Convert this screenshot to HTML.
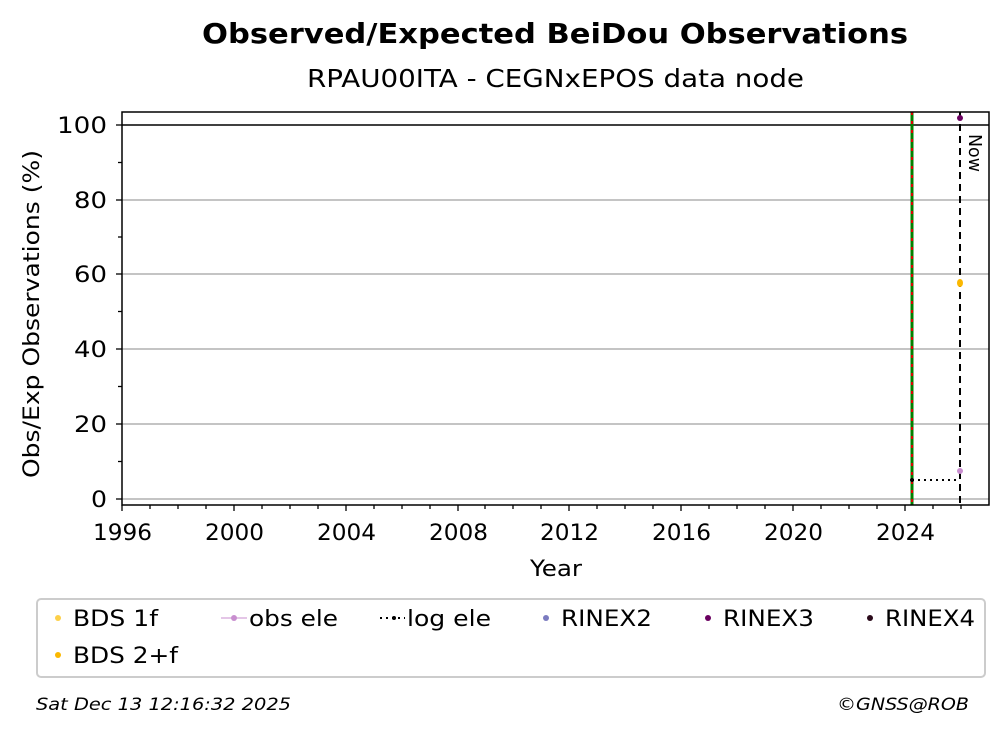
<!DOCTYPE html>
<html><head><style>body{margin:0;background:#fff}svg{display:block}text{font-family:"DejaVu Sans","Liberation Sans",sans-serif}</style></head><body>
<svg width="1008" height="734" viewBox="0 0 1008 734">
<text x="202" y="43" font-size="28" font-weight="bold" textLength="706" lengthAdjust="spacingAndGlyphs">Observed/Expected BeiDou Observations</text>
<text x="307" y="87" font-size="25" textLength="497" lengthAdjust="spacingAndGlyphs">RPAU00ITA - CEGNxEPOS data node</text>
<g stroke="#b0b0b0" stroke-width="1.5">
<line x1="122" x2="989" y1="499" y2="499"/><line x1="122" x2="989" y1="424" y2="424"/><line x1="122" x2="989" y1="349" y2="349"/><line x1="122" x2="989" y1="274" y2="274"/><line x1="122" x2="989" y1="200" y2="200"/>
</g>
<line x1="122" x2="989" y1="125" y2="125" stroke="#000" stroke-width="1.5"/>
<line x1="912" x2="912" y1="112" y2="505" stroke="#008000" stroke-width="3"/>
<line x1="912" x2="912" y1="112" y2="505" stroke="#e00000" stroke-width="2" stroke-dasharray="3,6"/>
<line x1="912" x2="960" y1="480" y2="480" stroke="#000" stroke-width="2" stroke-dasharray="2,4"/>
<circle cx="912" cy="480" r="2" fill="#000"/>
<line x1="960" x2="960" y1="112" y2="505" stroke="#000" stroke-width="2" stroke-dasharray="7,5"/>
<text transform="translate(969,134) rotate(90)" font-size="18" textLength="38" lengthAdjust="spacingAndGlyphs">Now</text>
<circle cx="960" cy="471" r="3" fill="#c88ecf"/>
<ellipse cx="960" cy="283" rx="3" ry="4" fill="#fbb800"/>
<circle cx="960" cy="118" r="3" fill="#6a0060"/>
<rect x="122" y="112" width="867" height="393" fill="none" stroke="#000" stroke-width="1.5"/>
<g stroke="#000" stroke-width="1.3">
<line x1="122" x2="116" y1="499" y2="499"/><line x1="122" x2="116" y1="424" y2="424"/><line x1="122" x2="116" y1="349" y2="349"/><line x1="122" x2="116" y1="274" y2="274"/><line x1="122" x2="116" y1="200" y2="200"/><line x1="122" x2="116" y1="125" y2="125"/>
<line x1="122" x2="118" y1="461.5" y2="461.5"/><line x1="122" x2="118" y1="386.5" y2="386.5"/><line x1="122" x2="118" y1="311.5" y2="311.5"/><line x1="122" x2="118" y1="237" y2="237"/><line x1="122" x2="118" y1="162.5" y2="162.5"/>
</g>
<g font-size="22">
<text x="91" y="507" textLength="16" lengthAdjust="spacingAndGlyphs">0</text>
<text x="74" y="432" textLength="33" lengthAdjust="spacingAndGlyphs">20</text>
<text x="74" y="357" textLength="33" lengthAdjust="spacingAndGlyphs">40</text>
<text x="74" y="282" textLength="33" lengthAdjust="spacingAndGlyphs">60</text>
<text x="74" y="208" textLength="33" lengthAdjust="spacingAndGlyphs">80</text>
<text x="57" y="133" textLength="50" lengthAdjust="spacingAndGlyphs">100</text>
</g>
<g stroke="#000" stroke-width="1.3">
<line x1="122" x2="122" y1="505" y2="511"/><line x1="150" x2="150" y1="505" y2="509"/><line x1="178" x2="178" y1="505" y2="509"/><line x1="206" x2="206" y1="505" y2="509"/>
<line x1="234" x2="234" y1="505" y2="511"/><line x1="262" x2="262" y1="505" y2="509"/><line x1="290" x2="290" y1="505" y2="509"/><line x1="318" x2="318" y1="505" y2="509"/>
<line x1="346" x2="346" y1="505" y2="511"/><line x1="374" x2="374" y1="505" y2="509"/><line x1="402" x2="402" y1="505" y2="509"/><line x1="430" x2="430" y1="505" y2="509"/>
<line x1="458" x2="458" y1="505" y2="511"/><line x1="485" x2="485" y1="505" y2="509"/><line x1="513" x2="513" y1="505" y2="509"/><line x1="541" x2="541" y1="505" y2="509"/>
<line x1="569" x2="569" y1="505" y2="511"/><line x1="597" x2="597" y1="505" y2="509"/><line x1="625" x2="625" y1="505" y2="509"/><line x1="653" x2="653" y1="505" y2="509"/>
<line x1="681" x2="681" y1="505" y2="511"/><line x1="709" x2="709" y1="505" y2="509"/><line x1="737" x2="737" y1="505" y2="509"/><line x1="765" x2="765" y1="505" y2="509"/>
<line x1="793" x2="793" y1="505" y2="511"/><line x1="821" x2="821" y1="505" y2="509"/><line x1="849" x2="849" y1="505" y2="509"/><line x1="877" x2="877" y1="505" y2="509"/>
<line x1="905" x2="905" y1="505" y2="511"/><line x1="933" x2="933" y1="505" y2="509"/><line x1="961" x2="961" y1="505" y2="509"/>
</g>
<g font-size="22">
<text x="93" y="540" textLength="59" lengthAdjust="spacingAndGlyphs">1996</text>
<text x="205" y="540" textLength="59" lengthAdjust="spacingAndGlyphs">2000</text>
<text x="317" y="540" textLength="59" lengthAdjust="spacingAndGlyphs">2004</text>
<text x="429" y="540" textLength="59" lengthAdjust="spacingAndGlyphs">2008</text>
<text x="540" y="540" textLength="59" lengthAdjust="spacingAndGlyphs">2012</text>
<text x="652" y="540" textLength="59" lengthAdjust="spacingAndGlyphs">2016</text>
<text x="764" y="540" textLength="59" lengthAdjust="spacingAndGlyphs">2020</text>
<text x="876" y="540" textLength="59" lengthAdjust="spacingAndGlyphs">2024</text>
</g>
<text x="530" y="576" font-size="22" textLength="52" lengthAdjust="spacingAndGlyphs">Year</text>
<text transform="translate(39,478) rotate(-90)" font-size="22" textLength="328" lengthAdjust="spacingAndGlyphs">Obs/Exp Observations (%)</text>
<rect x="37" y="599" width="948" height="78" rx="4" fill="#fff" stroke="#ccc" stroke-width="2"/>
<g font-size="22">
<circle cx="58" cy="618" r="3" fill="#fdd049"/><text x="73" y="626" textLength="85" lengthAdjust="spacingAndGlyphs">BDS 1f</text>
<circle cx="58" cy="655" r="3" fill="#fbb800"/><text x="73" y="663" textLength="105" lengthAdjust="spacingAndGlyphs">BDS 2+f</text>
<line x1="221" x2="247" y1="618" y2="618" stroke="#c88ecf"/><circle cx="234" cy="618" r="3" fill="#c88ecf"/><text x="249" y="626" textLength="89" lengthAdjust="spacingAndGlyphs">obs ele</text>
<line x1="380" x2="405" y1="618" y2="618" stroke="#000" stroke-width="2" stroke-dasharray="2,4"/><circle cx="394" cy="618" r="2" fill="#000"/><text x="407" y="626" textLength="84" lengthAdjust="spacingAndGlyphs">log ele</text>
<circle cx="546" cy="618" r="3" fill="#7b7bc0"/><text x="561" y="626" textLength="91" lengthAdjust="spacingAndGlyphs">RINEX2</text>
<circle cx="708" cy="618" r="3" fill="#6a0060"/><text x="723" y="626" textLength="91" lengthAdjust="spacingAndGlyphs">RINEX3</text>
<circle cx="870" cy="618" r="3" fill="#2a0a1a"/><text x="885" y="626" textLength="90" lengthAdjust="spacingAndGlyphs">RINEX4</text>
</g>
<text x="36" y="710" font-size="17" font-style="italic" textLength="255" lengthAdjust="spacingAndGlyphs">Sat Dec 13 12:16:32 2025</text>
<text x="837" y="710" font-size="17" font-style="italic" textLength="132" lengthAdjust="spacingAndGlyphs">©GNSS@ROB</text>
</svg>
</body></html>
